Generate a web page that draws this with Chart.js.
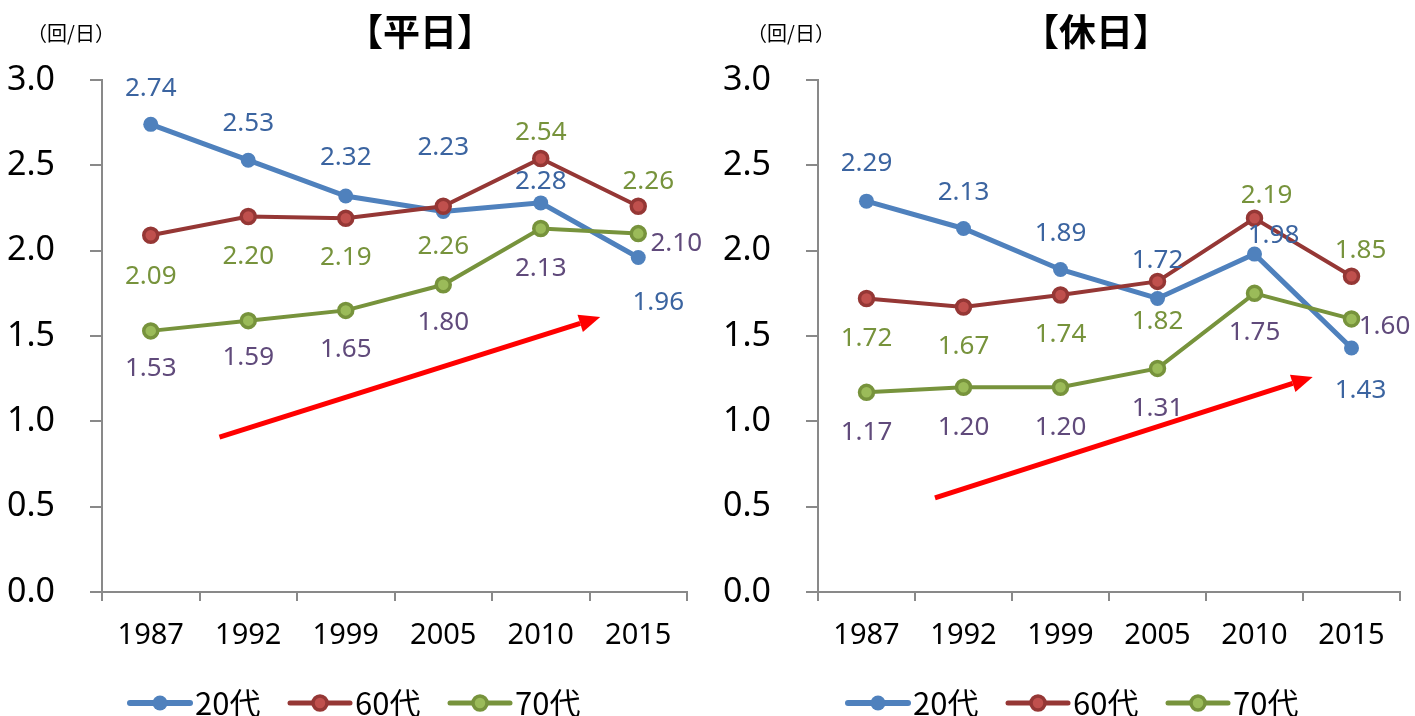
<!DOCTYPE html>
<html lang="ja">
<head>
<meta charset="UTF-8">
<title>平日・休日</title>
<script src="https://cdn.jsdelivr.net/npm/chart.js@4.4.1/dist/chart.umd.min.js"></script>
<style>
  body { margin: 0; background: #fff; }
  #wrap { position: relative; width: 1415px; height: 716px; }
  canvas { position: absolute; top: 0; }
</style>
</head>
<body>
<div id="wrap">
  <canvas id="weekday" width="707" height="716" style="left:0"></canvas>
  <canvas id="holiday" width="708" height="716" style="left:707px"></canvas>
</div>

<script>
// data
var years = ['1987', '1992', '1999', '2005', '2010', '2015'];
var seriesNames = ['20代', '60代', '70代'];
var yTicks = [0, 0.5, 1.0, 1.5, 2.0, 2.5, 3.0];

var weekday20 = [2.74, 2.53, 2.32, 2.23, 2.28, 1.96];
var weekday60 = [2.09, 2.20, 2.19, 2.26, 2.54, 2.26];
var weekday70 = [1.53, 1.59, 1.65, 1.80, 2.13, 2.10];

var holiday20 = [2.29, 2.13, 1.89, 1.72, 1.98, 1.43];
var holiday60 = [1.72, 1.67, 1.74, 1.82, 2.19, 1.85];
var holiday70 = [1.17, 1.20, 1.20, 1.31, 1.75, 1.60];

// label offsets (px) from each point, hand placed like the excel original
var wdOff20 = [[0, -36], [0, -37], [0, -38], [0, -64], [0, -21], [20, 45]];
var wdOff60 = [[0, 41], [0, 40], [0, 39], [0, 40], [0, -26], [10, -25]];
var wdOff70 = [[0, 38], [0, 37], [0, 39], [0, 38], [0, 40], [38, 10]];
var hdOff20 = [[0, -38], [0, -36], [0, -36], [0, -38], [19, -18], [9, 43]];
var hdOff60 = [[0, 40], [0, 40], [0, 40], [0, 40], [12, -23], [9, -26]];
var hdOff70 = [[0, 40], [0, 40], [0, 40], [0, 40], [0, 39], [33, 8]];

var font = '"Noto Sans", "Noto Sans CJK JP", sans-serif';
var jpFont = '"Noto Sans CJK JP", "Noto Sans", sans-serif';
var labelColors = ['#3b64a0', '#77933c', '#604a7b'];
var axisColor = '#898989';

var overlay = {
    id: 'overlay',
    afterDatasetsDraw: function (chart) {
        var c = chart.ctx, o = chart.options.plugins.overlay;
        var xs = chart.scales.x, ys = chart.scales.y;

        // red arrow
        var x1 = xs.getPixelForValue(o.arrow[0]), y1 = ys.getPixelForValue(o.arrow[1]);
        var x2 = xs.getPixelForValue(o.arrow[2]), y2 = ys.getPixelForValue(o.arrow[3]);
        var ang = Math.atan2(y2 - y1, x2 - x1);
        var hl = 21, hw = 9;
        c.save();
        c.strokeStyle = '#ff0000';
        c.fillStyle = '#ff0000';
        c.lineWidth = 5;
        c.beginPath();
        c.moveTo(x1, y1);
        c.lineTo(x2 - hl * Math.cos(ang), y2 - hl * Math.sin(ang));
        c.stroke();
        c.beginPath();
        c.moveTo(x2, y2);
        c.lineTo(x2 - hl * Math.cos(ang) + hw * Math.sin(ang), y2 - hl * Math.sin(ang) - hw * Math.cos(ang));
        c.lineTo(x2 - hl * Math.cos(ang) - hw * Math.sin(ang), y2 - hl * Math.sin(ang) + hw * Math.cos(ang));
        c.closePath();
        c.fill();

        // value labels
        c.font = '26px ' + font;
        c.textAlign = 'center';
        c.textBaseline = 'middle';
        chart.data.datasets.forEach(function (ds, di) {
            var meta = chart.getDatasetMeta(di);
            c.fillStyle = labelColors[di];
            meta.data.forEach(function (pt, i) {
                var off = o.offsets[di][i];
                c.fillText(ds.data[i].toFixed(2), pt.x + off[0], pt.y + off[1]);
            });
        });

        // title + unit
        c.fillStyle = '#000';
        c.font = 'bold 37px ' + jpFont;
        c.fillText(o.title, o.titleX, 32);
        c.font = '20px ' + jpFont;
        c.fillText('（回/日）', o.unitX, 33);

        // legend
        var lx = o.legendX, ly = 703;
        chart.data.datasets.forEach(function (ds, di) {
            var x0 = lx + di * 160;
            c.strokeStyle = ds.borderColor;
            c.lineWidth = ds.borderWidth + 1;
            c.lineCap = 'round';
            c.beginPath();
            c.moveTo(x0, ly);
            c.lineTo(x0 + 60, ly);
            c.stroke();
            c.beginPath();
            c.arc(x0 + 30, ly, ds.pointRadius, 0, Math.PI * 2);
            c.fillStyle = ds.pointBackgroundColor;
            c.fill();
            if (ds.pointBorderWidth) {
                c.lineWidth = ds.pointBorderWidth;
                c.strokeStyle = ds.pointBorderColor;
                c.stroke();
            }
            c.fillStyle = '#000';
            c.font = '31px ' + jpFont;
            c.textAlign = 'left';
            c.fillText(seriesNames[di], x0 + 65, ly);
        });
        c.restore();
    }
};

function makeChart(id, title, d20, d60, d70, offs, arrow, box) {
    var ctx = document.getElementById(id).getContext('2d');
    return new Chart(ctx, {
        type: 'line',
        data: {
            labels: years,
            datasets: [
                {
                    label: seriesNames[0], data: d20, order: 3,
                    borderColor: '#4f81bd', borderWidth: 5,
                    pointRadius: 7.5, pointBackgroundColor: '#4f81bd', pointBorderWidth: 0,
                    pointBorderColor: '#4f81bd'
                },
                {
                    label: seriesNames[1], data: d60, order: 2,
                    borderColor: '#953735', borderWidth: 4,
                    pointRadius: 7, pointBackgroundColor: '#c0504d', pointBorderWidth: 3.5,
                    pointBorderColor: '#953735'
                },
                {
                    label: seriesNames[2], data: d70, order: 1,
                    borderColor: '#77933c', borderWidth: 4,
                    pointRadius: 7, pointBackgroundColor: '#9bbb59', pointBorderWidth: 3.5,
                    pointBorderColor: '#77933c'
                }
            ]
        },
        options: {
            responsive: false,
            animation: false,
            devicePixelRatio: 1,
            layout: { padding: { top: 80, right: box.right, bottom: 62, left: 0 } },
            plugins: {
                legend: { display: false },
                tooltip: { enabled: false },
                overlay: {
                    title: title, titleX: box.titleX, unitX: box.unitX,
                    legendX: box.legendX, offsets: offs, arrow: arrow
                }
            },
            scales: {
                x: {
                    offset: true,
                    grid: {
                        display: true, drawOnChartArea: false, drawTicks: true,
                        tickLength: 9, color: axisColor, lineWidth: 2, offset: true
                    },
                    border: { display: true, color: axisColor, width: 2 },
                    ticks: { color: '#000', font: { size: 29, family: font }, padding: 17, maxRotation: 0, autoSkip: false },
                    afterFit: function (s) { s.height = 62; }
                },
                y: {
                    min: 0, max: 3,
                    afterBuildTicks: function (s) { s.ticks = yTicks.map(function (v) { return { value: v }; }); },
                    grid: {
                        display: true, drawOnChartArea: false, drawTicks: true,
                        tickLength: 12, color: axisColor, lineWidth: 2
                    },
                    border: { display: true, color: axisColor, width: 2 },
                    ticks: {
                        color: '#000', font: { size: 34, family: font }, padding: 35,
                        callback: function (v) { return Number(v).toFixed(1); }
                    },
                    afterFit: function (s) { s.width = box.left; }
                }
            }
        },
        plugins: [overlay]
    });
}

makeChart('weekday', '【平日】', weekday20, weekday60, weekday70,
    [wdOff20, wdOff60, wdOff70], [0.705, 0.908, 4.61, 1.611],
    { left: 102, right: 20, titleX: 420, unitX: 71, legendX: 130 });

makeChart('holiday', '【休日】', holiday20, holiday60, holiday70,
    [hdOff20, hdOff60, hdOff70], [0.706, 0.551, 4.60, 1.26],
    { left: 111, right: 15, titleX: 389, unitX: 84, legendX: 141 });
</script>
</body>
</html>
